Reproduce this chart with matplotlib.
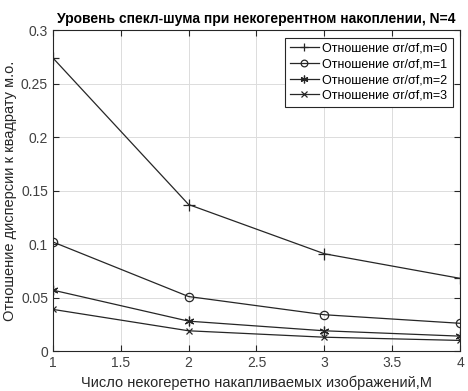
import matplotlib
matplotlib.use("Agg")
import matplotlib.pyplot as plt

plt.rcParams['font.family'] = ['Liberation Sans', 'DejaVu Sans']

M = [1, 2, 3, 4]
m0 = [0.274, 0.137, 0.091, 0.068]
m1 = [0.102, 0.051, 0.034, 0.026]
m2 = [0.057, 0.028, 0.019, 0.014]
m3 = [0.039, 0.019, 0.013, 0.010]
labels = ['Отношение σr/σf,m=0', 'Отношение σr/σf,m=1',
          'Отношение σr/σf,m=2', 'Отношение σr/σf,m=3']

fig = plt.figure(figsize=(4.68, 3.91), dpi=100)
ax = fig.add_axes([0.113, 0.102, 0.870, 0.821])

lc = '#262626'
ax.plot(M, m0, color=lc, lw=0.9, marker='+', ms=8, mew=0.9, label=labels[0])
ax.plot(M, m1, color=lc, lw=0.9, marker='o', ms=6, mfc='none', mew=0.9, label=labels[1])
ax.plot(M, m2, color=lc, lw=0.9, marker=(6, 2, 0), ms=7, mew=0.9, label=labels[2])
ax.plot(M, m3, color=lc, lw=0.9, marker='x', ms=5, mew=0.9, label=labels[3])

ax.set_xlim(1, 4)
ax.set_ylim(0, 0.3)
ax.set_xticks([1, 1.5, 2, 2.5, 3, 3.5, 4])
ax.set_xticklabels(['1', '1.5', '2', '2.5', '3', '3.5', '4'])
ax.set_yticks([0, 0.05, 0.1, 0.15, 0.2, 0.25, 0.3])
ax.set_yticklabels(['0', '0.05', '0.1', '0.15', '0.2', '0.25', '0.3'])
ax.grid(True, color='#dcdcdc', lw=0.7)
ax.tick_params(direction='in', length=4, labelsize=10, colors='#262626',
               labelcolor='#404040', top=True, right=True)
for s in ax.spines.values():
    s.set_color('#262626')
    s.set_linewidth(0.8)

ax.set_title('Уровень спекл-шума при некогерентном накоплении, N=4',
             fontsize=10, fontweight='bold', pad=5)
ax.set_xlabel('Число некогеретно накапливаемых изображений,M', fontsize=10.5,
              color='#262626')
ax.set_ylabel('Отношение дисперсии к квадрату м.о.', fontsize=10.5,
              color='#262626', labelpad=3)

leg = ax.legend(loc='upper right', fontsize=9, fancybox=False, framealpha=1,
                edgecolor='#262626', handlelength=2.3, borderaxespad=0.6,
                labelspacing=0.3, handletextpad=0.3, markerscale=0.8)
leg.get_frame().set_linewidth(0.8)

fig.savefig('out.png', dpi=100)
